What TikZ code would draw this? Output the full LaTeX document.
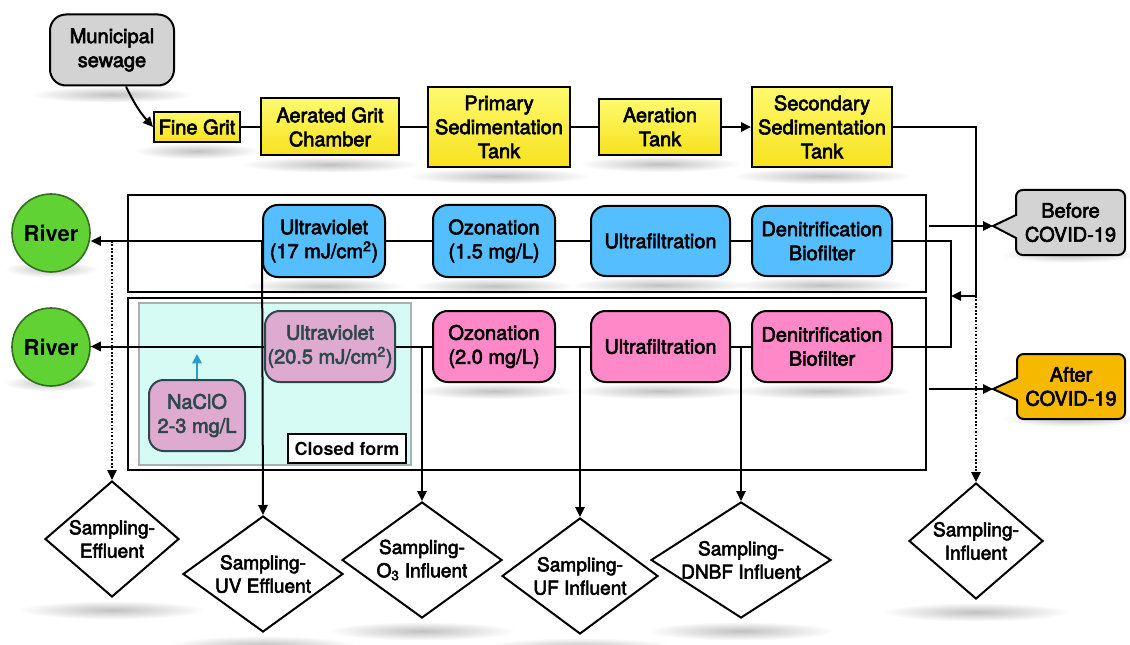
\documentclass[tikz,border=0pt]{standalone}
\usepackage{fontspec}
\setmainfont{TeX Gyre Heros}
\newfontfamily\medium{TeX Gyre Heros}[FakeBold=3]
\usetikzlibrary{shapes.geometric,arrows.meta,fadings}
\pgfdeclarelayer{background}
\pgfsetlayers{background,main}
\tikzfading[name=shfade, inner color=transparent!30, outer color=transparent!100]
\definecolor{ylwtop}{RGB}{255,250,110}
\definecolor{ylwbot}{RGB}{246,226,30}
\definecolor{bluebox}{RGB}{84,190,255}
\definecolor{pinkbox}{RGB}{255,136,200}
\definecolor{mauve}{RGB}{222,170,208}
\definecolor{slate}{RGB}{45,72,76}
\definecolor{cyanfill}{RGB}{214,251,244}
\definecolor{cyanedge}{RGB}{168,178,178}
\definecolor{grayfill}{RGB}{211,211,211}
\definecolor{orangebox}{RGB}{246,185,0}
\definecolor{rivergreen}{RGB}{96,210,52}
\definecolor{rivedge}{RGB}{50,110,30}
\definecolor{naclarrow}{RGB}{40,158,208}
\tikzset{
  every node/.style={font=\medium\fontsize{15}{18}\selectfont, align=center},
  conn/.style={line width=1.5pt},
  arr/.style={line width=1.5pt, -{Triangle[length=7.5pt,width=7pt]}},
  darr/.style={line width=1.3pt, dash pattern=on 1.3pt off 1.3pt, -{Triangle[length=7.5pt,width=7pt]}},
  ybox/.style={draw, line width=1.5pt, top color=ylwtop, bottom color=ylwbot, inner sep=0pt},
  bbox/.style={draw, line width=1.5pt, fill=bluebox, rounded corners=11pt, inner sep=0pt},
  pbox/.style={draw, line width=1.5pt, fill=pinkbox, rounded corners=11pt, inner sep=0pt},
  mbox/.style={draw=slate, line width=1.5pt, fill=mauve, text=slate, rounded corners=11pt, inner sep=0pt},
  frame/.style={draw, line width=1.5pt},
  river/.style={draw=rivedge, line width=1.2pt, fill=rivergreen, circle, minimum size=58.5pt, inner sep=0pt, font=\bfseries\fontsize{16.5}{19}\selectfont},
  samp/.style={draw, line width=1.5pt, diamond, inner sep=-30pt, font=\medium\fontsize{14.3}{17.5}\selectfont},
  callout/.style={draw, line width=1.5pt, rounded corners=5pt},
  shad/.style={fill=black, opacity=0.35, path fading=shfade},
}
\newcommand{\shadowunder}[1]{\fill[shad] ([xshift=-14pt,yshift=0pt]#1.south west) rectangle ([xshift=14pt,yshift=-12pt]#1.south east);}
\newcommand{\shadowtip}[1]{\fill[shad] ([xshift=-70pt,yshift=-2pt]#1.south) rectangle ([xshift=70pt,yshift=-16pt]#1.south);}
\begin{document}
\begin{tikzpicture}[x=0.75pt,y=-0.75pt]
\useasboundingbox (0,0) rectangle (1130,645);
% frames
\draw[frame] (128,195) rectangle (926,292);
\draw[frame] (128,298) rectangle (926,470);
\draw[line width=1.5pt, draw=cyanedge, fill=cyanfill] (139,303) rectangle (411,465);
% top chain
\node[draw, line width=1.5pt, fill=grayfill, rounded corners=12pt, minimum width=93pt, minimum height=53.25pt, inner sep=0pt] (ms) at (112,50) {Municipal\\sewage};
\node[ybox, minimum width=64.5pt, minimum height=22.5pt] (fg) at (197,127) {Fine Grit};
\node[ybox, minimum width=103.5pt, minimum height=42.75pt] (agc) at (330,127) {Aerated Grit\\Chamber};
\node[ybox, minimum width=106.5pt, minimum height=60pt] (pst) at (499,127) {Primary\\Sedimentation\\Tank};
\node[ybox, minimum width=91.5pt, minimum height=42pt] (at) at (660,127) {Aeration\\Tank};
\node[ybox, minimum width=105pt, minimum height=60pt] (sst) at (822,127) {Secondary\\Sedimentation\\Tank};
\draw[arr] (ms.south -| 126,0) to[bend right=8] (fg.west);
\draw[conn] (fg) -- (agc);
\draw[conn] (agc) -- (pst);
\draw[conn] (pst) -- (at);
\draw[arr] (at) -- (sst);
% before row
\node[bbox, minimum width=91.5pt, minimum height=54pt] (buv) at (324,241) {Ultraviolet\\(17 mJ/cm\textsuperscript{2})};
\node[bbox, minimum width=91.5pt, minimum height=54pt] (boz) at (494,241) {Ozonation\\(1.5 mg/L)};
\node[bbox, minimum width=104.25pt, minimum height=52.5pt] (buf) at (660.5,241) {Ultrafiltration};
\node[bbox, minimum width=105pt, minimum height=52.5pt] (bdn) at (822,241) {Denitrification\\Biofilter};
\node[river] (river1) at (51,233) {River};
\draw[conn] (bdn) -- (buf);
\draw[conn] (buf) -- (boz);
\draw[conn] (boz) -- (buv);
\draw[arr] (buv.west) -- (river1.east |- buv.west);
% after row
\node[mbox, minimum width=97.5pt, minimum height=53.25pt] (puv) at (330,346.5) {Ultraviolet\\(20.5 mJ/cm\textsuperscript{2})};
\node[pbox, minimum width=91.5pt, minimum height=53.25pt] (poz) at (494,346.5) {Ozonation\\(2.0 mg/L)};
\node[pbox, minimum width=104.25pt, minimum height=53.25pt] (puf) at (660.5,346.5) {Ultrafiltration};
\node[pbox, minimum width=105pt, minimum height=53.25pt] (pdn) at (822,346.5) {Denitrification\\Biofilter};
\node[mbox, minimum width=72pt, minimum height=53.25pt] (nacl) at (197,415.5) {NaClO\\2-3 mg/L};
\node[draw, line width=1.3pt, fill=white, minimum width=88.5pt, minimum height=21.75pt, inner sep=0pt, font=\bfseries\fontsize{13.5}{16}\selectfont] (cf) at (347,448.5) {Closed form};
\node[river] (river2) at (51,347) {River};
\draw[conn] (pdn) -- (puf);
\draw[conn] (puf) -- (poz);
\draw[conn] (poz) -- (puv);
\draw[arr] (puv.west) -- (river2.east |- puv.west);
\coordinate (naclT) at (197,354);
\draw[line width=1.5pt, draw=naclarrow, -{Triangle[length=7pt,width=7pt]}] (nacl.north) -- (naclT);
% sampling diamonds
\node[samp, minimum width=100.5pt, minimum height=87pt] (seff) at (112,539) {Sampling-\\Effluent};
\node[samp, minimum width=120pt, minimum height=87pt] (suv) at (263,574) {Sampling-\\UV Effluent};
\node[samp, minimum width=120pt, minimum height=87pt] (so3) at (422,560) {Sampling-\\O\textsubscript{3} Influent};
\node[samp, minimum width=117pt, minimum height=87pt] (suf) at (580,576) {Sampling-\\UF Influent};
\node[samp, minimum width=135pt, minimum height=87pt] (sdn) at (741,560) {Sampling-\\DNBF Influent};
\node[samp, minimum width=100.5pt, minimum height=87pt] (sinf) at (976,541) {Sampling-\\Influent};
% sampling connectors
\coordinate (eff) at (112,241);
\coordinate (o3p) at (422,346.5);
\coordinate (ufp) at (580,346.5);
\coordinate (dnp) at (741,346.5);
\draw[darr] (eff) -- (seff.north);
\draw[arr] (buv.west) -- (suv.north);
\draw[arr] (o3p) -- (so3.north);
\draw[arr] (ufp) -- (suf.north);
\draw[arr] (dnp) -- (sdn.north);
% feed lines
\coordinate (j1) at (976,296);
\coordinate (j2) at (951,296);
\draw[conn] (sst.east) -| (j1);
\draw[arr] (j1) -- (j2);
\draw[conn] (bdn.east) -| (j2) |- (pdn.east);
\draw[darr] (j1) -- (sinf.north);
% callouts
\draw[callout, fill=grayfill] (993,226) [sharp corners] -- (1016,215) [rounded corners=5pt] -- (1016,190) -- (1125,190) -- (1125,255) -- (1016,255) [sharp corners] -- (1016,238) -- cycle;
\node (before) at (1070.5,222.5) {Before\\COVID-19};
\draw[callout, fill=orangebox] (993,389) [sharp corners] -- (1017,378) [rounded corners=5pt] -- (1017,354) -- (1125,354) -- (1125,419) -- (1017,419) [sharp corners] -- (1017,400) -- cycle;
\node (after) at (1071,386.5) {After\\COVID-19};
\coordinate (bs) at (929,226);
\coordinate (bt) at (993,226);
\coordinate (as) at (929,389);
\coordinate (atip) at (993,389);
\draw[arr] (bs) -- (bt);
\draw[arr] (as) -- (atip);
% soft shadows
\begin{pgfonlayer}{background}
\foreach \n in {ms,fg,agc,pst,at,sst,buv,boz,buf,bdn,puv,poz,puf,pdn,nacl,river1,river2,before,after}{\shadowunder{\n}}
\foreach \n in {seff,suv,so3,suf,sdn,sinf}{\shadowtip{\n}}
\end{pgfonlayer}
\end{tikzpicture}
\end{document}
